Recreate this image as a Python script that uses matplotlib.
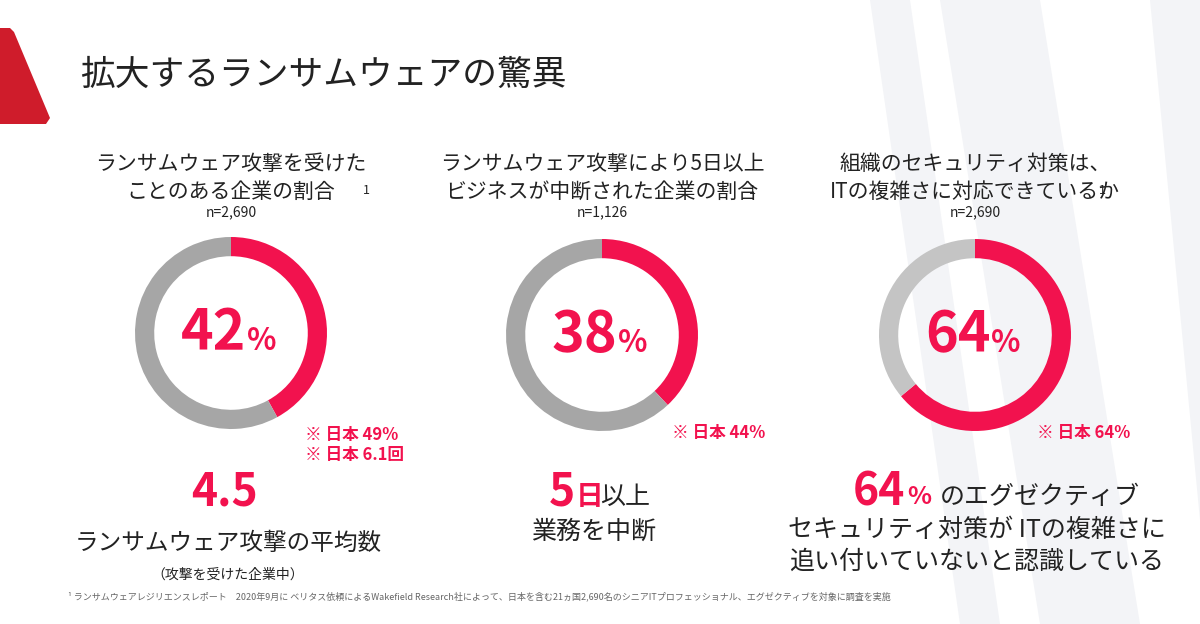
import matplotlib
matplotlib.use("Agg")
import matplotlib.pyplot as plt
from matplotlib.patches import Polygon

plt.rcParams['font.family'] = ['Noto Sans CJK JP', 'DejaVu Sans']

RED = '#F2124E'
title = '拡大するランサムウェアの驚異'
subtitles = ['ランサムウェア攻撃を受けた\nことのある企業の割合', 'ランサムウェア攻撃により5日以上\nビジネスが中断された企業の割合', '組織のセキュリティ対策は、\nITの複雑さに対応できているか']
samples = ['n=2,690', 'n=1,126', 'n=2,690']
values = [42, 38, 64]
greys = ['#a6a6a6', '#a6a6a6', '#c4c4c4']
japan_notes = ['※ 日本 49%\n※ 日本 6.1回', '※ 日本 44%', '※ 日本 64%']
footnote = '¹ ランサムウェアレジリエンスレポート　2020年9月に ベリタス依頼によるWakefield Research社によって、日本を含む21ヵ国2,690名のシニアITプロフェッショナル、エグゼクティブを対象に調査を実施'

W, H = 1200, 624
fig = plt.figure(figsize=(12, 6.24), dpi=100)
bg = fig.add_axes([0, 0, 1, 1])
bg.set_xlim(0, W); bg.set_ylim(H, 0); bg.axis('off')

# background stripes
for pts in [[(870, 0), (910, 0), (1000, 624), (960, 624)],
            [(940, 0), (1040, 0), (1140, 624), (1040, 624)],
            [(1150, 0), (1200, 0), (1200, 624), (1210, 624)]]:
    bg.add_patch(Polygon(pts, closed=True, color='#f3f4f7', lw=0, zorder=0))
bg.add_patch(Polygon([(0, 28), (10, 28), (14, 32), (50, 118), (46, 124), (0, 124)], closed=True, color='#cf1c2b', lw=0))

bg.text(80, 75, title, fontsize=25, color='#222', va='center', ha='left')

centers = [(231, 333), (602, 335), (975, 335)]
R = 96
for i, (cx, cy) in enumerate(centers):
    ax = fig.add_axes([(cx - R) / W, 1 - (cy + R) / H, 2 * R / W, 2 * R / H])
    ax.pie([values[i], 100 - values[i]], colors=[RED, greys[i]], startangle=90, counterclock=False,
           radius=1, wedgeprops=dict(width=0.2, edgecolor='none'))
    ax.set_xlim(-1, 1); ax.set_ylim(-1, 1); ax.set_aspect('equal'); ax.axis('off')
    ax.text(0.16, 0, f'{values[i]}', fontsize=40, fontweight='bold', color=RED, ha='right', va='center')
    ax.text(0.17, -0.08, '%', fontsize=22, fontweight='bold', color=RED, ha='left', va='center')
    bg.text(cx, 178, subtitles[i], fontsize=15, ha='center', va='center', color='#222', linespacing=1.3)
    bg.text(cx, 212, samples[i], fontsize=10, style='italic', ha='center', va='center', color='#222')

# superscripts
for x, y in [(366, 190), (752, 190), (1102, 190)]:
    bg.text(x, y, '1', fontsize=9, color='#222', ha='center', va='center')

bg.text(305, 445, japan_notes[0], fontsize=12, fontweight='bold', color=RED, ha='left', va='center', linespacing=1.2)
bg.text(672, 433, japan_notes[1], fontsize=12, fontweight='bold', color=RED, ha='left', va='center')
bg.text(1037, 433, japan_notes[2], fontsize=12, fontweight='bold', color=RED, ha='left', va='center')

bg.text(225, 493, '4.5', fontsize=32, fontweight='bold', color=RED, ha='center', va='center')
bg.text(228, 543, 'ランサムウェア攻撃の平均数', fontsize=17, color='#222', ha='center', va='center')
bg.text(228, 575, '（攻撃を受けた企業中）', fontsize=10, color='#222', ha='center', va='center')

bg.text(575, 493, '5', fontsize=32, fontweight='bold', color=RED, ha='right', va='center')
bg.text(576, 497, '日', fontsize=20, fontweight='bold', color=RED, ha='left', va='center')
bg.text(600, 497, '以上', fontsize=18, color='#222', ha='left', va='center')
bg.text(594, 532, '業務を中断', fontsize=18, color='#222', ha='center', va='center')

bg.text(905, 493, '64', fontsize=32, fontweight='bold', color=RED, ha='right', va='center')
bg.text(907, 497, '%', fontsize=18, fontweight='bold', color=RED, ha='left', va='center')
bg.text(940, 497, 'のエグゼクティブ', fontsize=18, color='#222', ha='left', va='center')
bg.text(977, 530, 'セキュリティ対策が ITの複雑さに', fontsize=18, color='#222', ha='center', va='center')
bg.text(977, 562, '追い付いていないと認識している', fontsize=18, color='#222', ha='center', va='center')

bg.text(68, 596, footnote, fontsize=6.5, color='#666', ha='left', va='center')

fig.savefig('out.png', dpi=100, facecolor='white')
